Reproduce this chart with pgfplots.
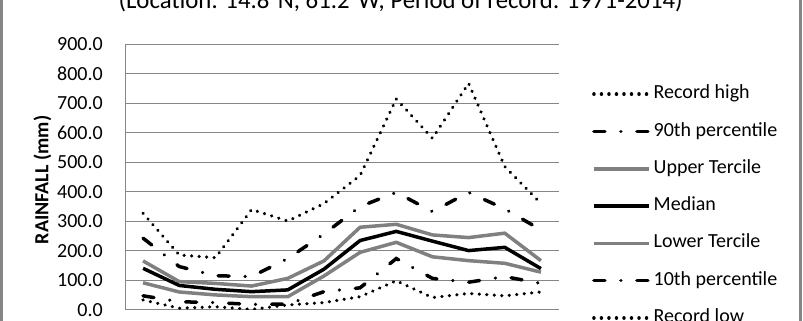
\documentclass[border=0pt]{standalone}
\usepackage{pgfplots}
\pgfplotsset{compat=1.18}
\usepackage{fontspec}
\setmainfont{Carlito}
\definecolor{frame}{RGB}{134,134,134}
\definecolor{grayline}{RGB}{128,128,128}
\begin{document}
\begin{tikzpicture}
\useasboundingbox (0pt,0pt) rectangle (803pt,321pt);
\draw[frame, line width=2.5pt] (1.25pt,-40pt) rectangle (800.25pt,380pt);
\begin{axis}[
  at={(125pt,11pt)}, anchor=south west,
  width=434pt, height=266pt, scale only axis,
  xmin=0.5, xmax=12.5, ymin=0, ymax=900,
  xtick=\empty,
  ytick={0,100,...,900},
  axis x line*=bottom, axis y line*=left,
  axis line style={frame, line width=1pt},
  ymajorgrids, grid style={frame, line width=1pt},
  major tick length=0pt,
  tick label style={font=\fontsize{20}{24}\selectfont},
  yticklabel style={/pgf/number format/.cd, fixed, fixed zerofill, precision=1, assume math mode=true, /tikz/.cd, inner sep=0pt, anchor=east, xshift=-22pt},
  title={(Location: 14.8°N, 61.2°W; Period of record: 1971-2014)},
  title style={at={(axis description cs:0.635,1.1128)}, anchor=base, font=\fontsize{24.8}{30}\selectfont, inner sep=0pt},
  ylabel={RAINFALL (mm)},
  ylabel style={at={(axis description cs:-0.190,0.489)}, anchor=center, font=\bfseries\fontsize{20}{24}\selectfont, inner sep=0pt},
  legend style={at={(axis description cs:1.076,0.844)}, anchor=north west, draw=none, fill=none, inner sep=0pt, row sep=20.3pt, column sep=3pt, font=\fontsize{20}{24}\selectfont, nodes={inner sep=0pt, text height=13pt, text depth=4pt}},
  legend cell align=left,
  legend image code/.code={\draw[#1] (0pt,0pt) -- (55pt,0pt);},
]
\addplot[black, line width=3.5pt, line cap=round, dash pattern=on 0.01pt off 7.5pt] coordinates {(1,327) (2,186) (3,177) (4,340) (5,301) (6,360) (7,455) (8,714) (9,581) (10,767) (11,485) (12,361)};
\addlegendentry{Record high}
\addplot[black, line width=3.5pt, line cap=round, dash pattern=on 11pt off 16pt on 0.01pt off 16pt] coordinates {(1,243) (2,147) (3,116) (4,113) (5,174) (6,257) (7,350) (8,398) (9,333) (10,398) (11,342) (12,271)};
\addlegendentry{90th percentile}
\addplot[grayline, line width=3.5pt, line join=round] coordinates {(1,166) (2,96) (3,90) (4,81) (5,107) (6,166) (7,280) (8,290) (9,254) (10,245) (11,260) (12,167)};
\addlegendentry{Upper Tercile}
\addplot[black, line width=3.5pt, line join=round] coordinates {(1,141) (2,83) (3,70) (4,62) (5,68) (6,138) (7,235) (8,266) (9,233) (10,201) (11,212) (12,140)};
\addlegendentry{Median}
\addplot[grayline, line width=3.5pt, line join=round] coordinates {(1,92) (2,61) (3,51) (4,45) (5,45) (6,115) (7,195) (8,229) (9,180) (10,167) (11,158) (12,128)};
\addlegendentry{Lower Tercile}
\addplot[black, line width=3.5pt, line cap=round, dash pattern=on 11pt off 16pt on 0.01pt off 16pt] coordinates {(1,48) (2,28) (3,25) (4,19) (5,20) (6,62) (7,75) (8,174) (9,107) (10,94) (11,113) (12,90)};
\addlegendentry{10th percentile}
\addplot[black, line width=3.5pt, line cap=round, dash pattern=on 0.01pt off 7.5pt] coordinates {(1,34) (2,6) (3,11) (4,2) (5,17) (6,25) (7,45) (8,99) (9,42) (10,56) (11,48) (12,61)};
\addlegendentry{Record low}
\end{axis}
\end{tikzpicture}
\end{document}
